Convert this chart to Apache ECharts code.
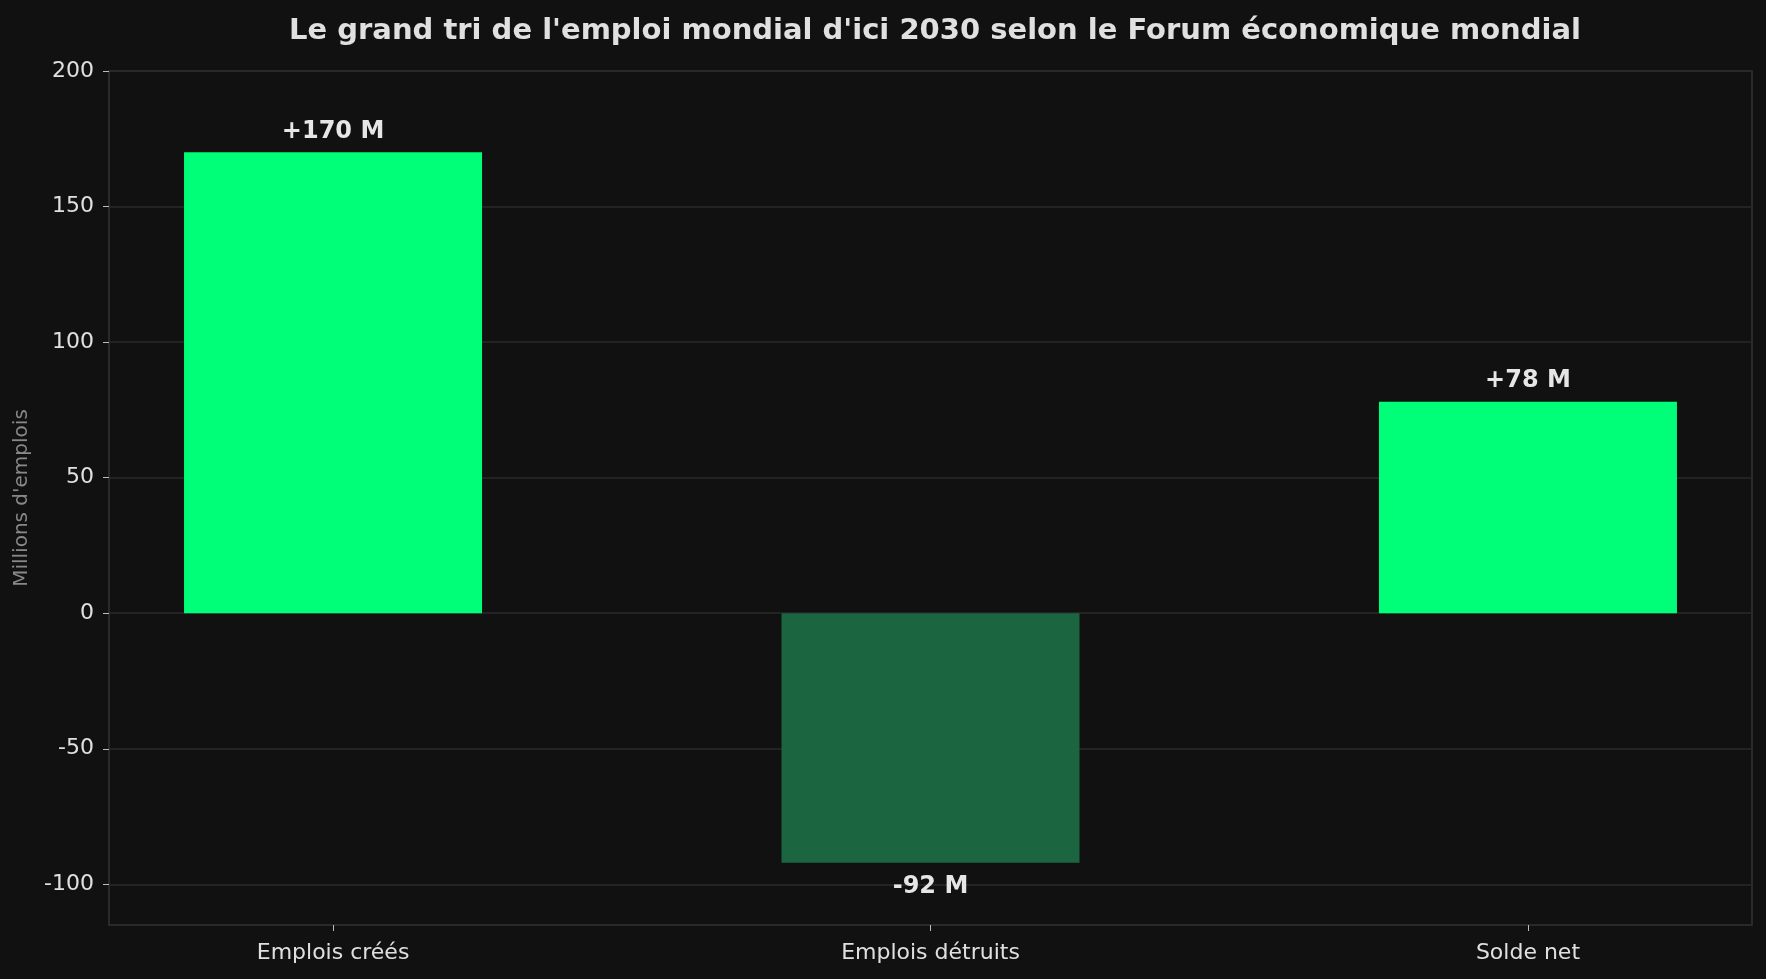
<!DOCTYPE html>
<html>
	<head>
		<title>Emploi mondial 2030</title>
		<meta http-equiv="content-type" content="text/html; charset=UTF-8">
		<script src="https://cdn.jsdelivr.net/npm/echarts@6/dist/echarts.min.js"></script>
		<style>
			html {height: 100%; width: 100%;}
			body {height: 100%; width: 100%; margin:0px; background:#111111;}
		</style>
		<script>
			const categories = ['Emplois créés', 'Emplois détruits', 'Solde net'];
			const values = [170, -92, 78];
			const valueLabels = ['+170 M', '-92 M', '+78 M'];
			const yTicks = [-100, -50, 0, 50, 100, 150, 200];

			let chart;
			function onload() {
				const colors = values.map(v => v >= 0 ? '#00ff78' : '#1b6641');
				const data = values.map((v, i) => ({
					value: [i, v],
					itemStyle: { color: colors[i] },
					label: {
						position: v >= 0 ? 'top' : 'bottom',
						distance: v >= 0 ? 9 : 12,
						formatter: valueLabels[i]
					}
				}));
				let option = {
					backgroundColor: '#111111',
					animation: false,
					textStyle: { fontFamily: 'DejaVu Sans' },
					title: {
						text: "Le grand tri de l'emploi mondial d'ici 2030 selon le Forum économique mondial",
						left: 930,
						textAlign: 'center',
						top: 12,
						textStyle: { color: '#e0e0e0', fontSize: 29, fontWeight: 'bold', fontFamily: 'DejaVu Sans' }
					},
					grid: {
						left: 109, right: 14, top: 71, bottom: 54,
						show: true, borderColor: '#333333', borderWidth: 1.5
					},
					xAxis: {
						type: 'value',
						min: -0.375, max: 2.375,
						axisLine: { show: false, onZero: false },
						splitLine: { show: false },
						axisTick: { show: true, customValues: [0, 1, 2], length: 6, lineStyle: { color: '#bbbbbb' } },
						axisLabel: {
							customValues: [0, 1, 2],
							formatter: v => categories[Math.round(v)],
							color: '#e0e0e0', fontSize: 22, margin: 17, fontFamily: 'DejaVu Sans'
						}
					},
					yAxis: {
						type: 'value',
						min: -115, max: 200,
						name: "Millions d'emplois",
						nameLocation: 'middle',
						nameGap: 77,
						nameTextStyle: { color: '#888888', fontSize: 20, fontFamily: 'DejaVu Sans' },
						axisLine: { show: false, onZero: false },
						splitLine: { show: true, lineStyle: { color: '#2a2a2a', width: 1.5 } },
						axisTick: { show: true, customValues: yTicks, length: 6, lineStyle: { color: '#bbbbbb' } },
						axisLabel: {
							customValues: yTicks,
							color: '#e0e0e0', fontSize: 22, margin: 15, fontFamily: 'DejaVu Sans'
						}
					},
					series: [
						{
							type: 'bar',
							barWidth: 298,
							data: data,
							label: {
								show: true,
								color: '#e6e6e6', fontSize: 24, fontWeight: 'bold', fontFamily: 'DejaVu Sans'
							}
						}
					]
				};
				chart = echarts.init(document.getElementById('container'));
				chart.setOption(option);
			}
		</script>
	</head>
	<body onload="onload()">
		<div id="container" style="width:1766px;height:979px;"></div>
	</body>
</html>
